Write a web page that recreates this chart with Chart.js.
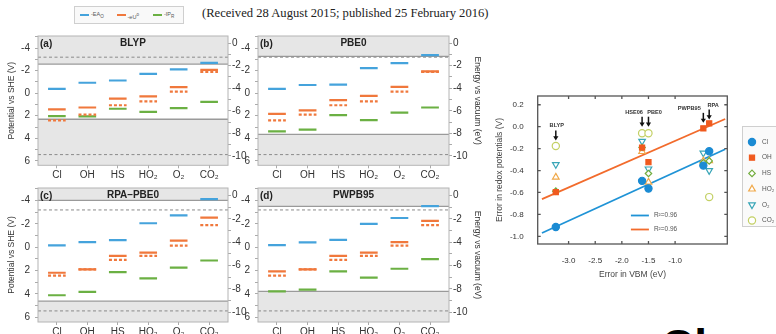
<!DOCTYPE html>
<html>
<head>
<meta charset="utf-8">
<script src="https://cdn.jsdelivr.net/npm/chart.js@4.4.1/dist/chart.umd.min.js"></script>
<style>
  html, body { margin: 0; padding: 0; background: #fff; width: 776px; height: 334px; overflow: hidden; position: relative; font-family: "Liberation Sans", Arial, sans-serif; }
  canvas { position: absolute; }
  .abs { position: absolute; white-space: nowrap; }
</style>
</head>
<body>
<div class="abs" style="left:202px;top:7px;font:12.6px/13px 'Liberation Serif','Times New Roman',serif;color:#222;">(Received 28 August 2015; published 25 February 2016)</div>
<div class="abs" id="levelLegend" style="left:74px;top:6px;width:108px;height:16px;border:1px solid #cfcfcf;background:#f9f9f9;"></div>

<canvas id="panelA" width="250" height="158" style="left:0;top:25px"></canvas>
<canvas id="panelB" width="255" height="158" style="left:230px;top:25px"></canvas>
<canvas id="panelC" width="250" height="164" style="left:0;top:170px"></canvas>
<canvas id="panelD" width="255" height="164" style="left:230px;top:170px"></canvas>
<canvas id="errorChart" width="286" height="195" style="left:490px;top:85px"></canvas>

<div class="abs" style="left:661px;top:323px;font:bold 46px/46px 'Liberation Sans',Arial,sans-serif;color:#000;">Cl</div>

<script>
const FONT = '"Liberation Sans", Arial, sans-serif';
Chart.defaults.font.family = FONT;
Chart.defaults.color = "#333";

// ---- level diagrams (a)-(d) ----
const categories = ["Cl", "OH", "HS", "HO₂", "O₂", "CO₂"];
const potTicks = [-5, -4, -3, -2, -1, 0, 1, 2, 3, 4, 5, 6];
const vacTicks = [-10, -9, -8, -7, -6, -5, -4, -3, -2, -1, 0];
const dashedLevels = [-3.2, 5.45];
const expU = [2.42, 1.90, 1.07, 0.73, -0.14, -1.90];   // dotted orange, same in every panel

const blypEA = [-0.39, -0.93, -1.13, -1.72, -2.11, -2.70];
const blypU  = [1.44, 1.27, 0.48, 0.28, -0.54, -2.08];
const blypIP = [2.03, 2.05, 1.38, 1.66, 1.32, 0.76];
const blypEdges = [-2.59, 2.31];

const pbe0EA = [-0.39, -0.73, -0.76, -2.23, -2.68, -3.38];
const pbe0U  = [1.83, 1.52, 0.62, 0.23, -0.56, -1.94];
const pbe0IP = [3.38, 3.24, 1.94, 2.39, 1.72, 1.27];
const pbe0Edges = [-3.27, 3.66];

const rpaEA = [-0.16, -0.44, -0.61, -2.06, -2.74, -4.13];
const rpaU  = [2.18, 1.90, 0.73, 0.45, -0.57, -2.55];
const rpaIP = [4.11, 3.82, 2.12, 2.66, 1.75, 1.13];
const rpaEdges = [-4.02, 4.62];

const pwpbEA = [-0.19, -0.42, -0.64, -2.00, -2.51, -3.53];
const pwpbU  = [2.07, 1.90, 0.73, 0.45, -0.45, -2.27];
const pwpbIP = [3.77, 3.62, 2.07, 2.60, 1.84, 1.02];
const pwpbEdges = [-3.50, 3.77];

const SHE_OFFSET = 4.44;
const Y_MIN = -5.08, Y_MAX = 6.4;
const X_MIN = -0.62, X_MAX = 5.62;
const HALF = 0.29;

const BLUE = "#45a3dc", ORANGE = "#f0783c", GREEN = "#6bb043";
const BAND = "#e6e6e6", EDGE = "#9a9a9a";

// top legend
const legendItems = [
  { color: BLUE, html: "-EA<sub>O</sub>" },
  { color: ORANGE, html: "-eU<sup>o</sup>" },
  { color: GREEN, html: "-IP<sub>R</sub>" }
];
const legendBox = document.getElementById("levelLegend");
legendItems.forEach((it, i) => {
  const sw = document.createElement("div");
  sw.className = "abs";
  sw.style.cssText = `left:${5 + i * 36.5}px;top:7px;width:9px;height:1.6px;background:${it.color};`;
  const tx = document.createElement("div");
  tx.className = "abs";
  tx.style.cssText = `left:${16 + i * 36.5}px;top:4px;font-size:5.5px;line-height:7px;color:#555;`;
  tx.innerHTML = it.html;
  legendBox.appendChild(sw);
  legendBox.appendChild(tx);
});

// frame around the plot area, optional inward ticks
const framePlugin = {
  id: "frame",
  afterDraw(chart, args, opts) {
    if (!opts.color) return;
    const { ctx, chartArea: a } = chart;
    ctx.save();
    ctx.strokeStyle = opts.color;
    ctx.lineWidth = opts.width || 1;
    ctx.strokeRect(a.left, a.top, a.right - a.left, a.bottom - a.top);
    if (opts.inTicks) {
      const len = opts.inTicks, xs = chart.scales.x, ys = chart.scales.y;
      ctx.beginPath();
      xs.ticks.forEach(t => {
        const p = xs.getPixelForValue(t.value);
        ctx.moveTo(p, a.bottom); ctx.lineTo(p, a.bottom - len);
        ctx.moveTo(p, a.top); ctx.lineTo(p, a.top + len);
      });
      ys.ticks.forEach(t => {
        const p = ys.getPixelForValue(t.value);
        ctx.moveTo(a.left, p); ctx.lineTo(a.left + len, p);
        ctx.moveTo(a.right, p); ctx.lineTo(a.right - len, p);
      });
      ctx.stroke();
    }
    ctx.restore();
  }
};

// "(a)" tag and method name inside the plot
const panelTitlePlugin = {
  id: "panelTitle",
  afterDraw(chart, args, opts) {
    if (!opts.name) return;
    const { ctx, chartArea: a } = chart;
    ctx.save();
    ctx.fillStyle = "#222";
    ctx.font = `bold 10px ${FONT}`;
    ctx.textBaseline = "middle";
    ctx.textAlign = "left";
    ctx.fillText(opts.tag, a.left + 2, a.top + 8);
    ctx.textAlign = "center";
    ctx.fillText(opts.name, (a.left + a.right) / 2, a.top + 7.5);
    ctx.restore();
  }
};

Chart.register(framePlugin, panelTitlePlugin);

function segments(vals) {
  return vals.flatMap((v, i) => [{ x: i - HALF, y: v }, { x: i + HALF, y: v }, { x: i + 0.5, y: null }]);
}
function hline(v) {
  return [{ x: X_MIN, y: v }, { x: X_MAX, y: v }];
}

function levelPanel(id, cfg) {
  const tickGrid = { display: true, drawOnChartArea: false, tickLength: 3, color: "#aaa" };
  const levelSet = (vals, color, dash) => ({
    data: segments(vals), borderColor: color, borderWidth: 2.2, borderDash: dash || [],
    showLine: true, pointRadius: 0, spanGaps: false, order: 1
  });
  new Chart(document.getElementById(id), {
    type: "scatter",
    data: {
      datasets: [
        levelSet(cfg.ea, BLUE),
        levelSet(expU, ORANGE, [3, 2]),
        levelSet(cfg.u, ORANGE),
        levelSet(cfg.ip, GREEN),
        { data: hline(cfg.edges[0]), fill: { value: Y_MIN }, backgroundColor: BAND, borderColor: EDGE, borderWidth: 1.3, showLine: true, pointRadius: 0, order: 6 },
        { data: hline(cfg.edges[1]), fill: { value: Y_MAX }, backgroundColor: BAND, borderColor: EDGE, borderWidth: 1.3, showLine: true, pointRadius: 0, order: 6 },
        { data: hline(dashedLevels[0]), borderColor: "#8a8a8a", borderWidth: 1, borderDash: [3, 2.5], showLine: true, pointRadius: 0, order: 5 },
        { data: hline(dashedLevels[1]), borderColor: "#8a8a8a", borderWidth: 1, borderDash: [3, 2.5], showLine: true, pointRadius: 0, order: 5 }
      ]
    },
    options: {
      responsive: false, animation: false, events: [],
      layout: { padding: { top: cfg.padTop, left: 0, right: 0, bottom: 0 } },
      plugins: {
        legend: { display: false }, tooltip: { enabled: false },
        frame: { color: "#b4b4b4", width: 1 },
        panelTitle: { tag: cfg.tag, name: cfg.name }
      },
      scales: {
        x: {
          type: "linear", min: X_MIN, max: X_MAX,
          afterBuildTicks: s => { s.ticks = categories.map((c, i) => ({ value: i })); },
          afterFit: s => { s.height = cfg.bottomH; },
          ticks: { callback: v => categories[v], font: { size: 10 }, color: "#333", padding: 1, maxRotation: 0, autoSkip: false },
          grid: tickGrid, border: { display: false }
        },
        y: {
          position: "left", reverse: true, min: Y_MIN, max: Y_MAX,
          afterBuildTicks: s => { s.ticks = potTicks.map(v => ({ value: v })); },
          afterFit: s => { s.width = cfg.leftW; },
          ticks: { callback: v => (v % 2 === 0 ? String(v) : ""), font: { size: 10 }, color: "#333", padding: 5, autoSkip: false },
          grid: tickGrid, border: { display: false },
          title: { display: cfg.leftTitle, text: "Potential vs SHE (V)", font: { size: 8.5 }, color: "#333", padding: { top: 7, bottom: 0 } }
        },
        yE: {
          position: "right", min: -Y_MAX - SHE_OFFSET, max: -Y_MIN - SHE_OFFSET,
          afterBuildTicks: s => { s.ticks = vacTicks.map(v => ({ value: v })); },
          afterFit: s => { s.width = cfg.rightW; },
          ticks: { callback: v => (v % 2 === 0 ? String(v) : ""), font: { size: 10 }, color: "#333", padding: 1, autoSkip: false },
          grid: tickGrid, border: { display: false },
          title: { display: cfg.rightTitle, text: "Energy vs vacuum (eV)", font: { size: 8.5 }, color: "#333", padding: { top: 3, bottom: 0 } }
        }
      }
    }
  });
}

levelPanel("panelA", { tag: "(a)", name: "BLYP", ea: blypEA, u: blypU, ip: blypIP, edges: blypEdges,
  padTop: 5.7, bottomH: 17.7, leftW: 38, rightW: 22, leftTitle: true, rightTitle: false });
levelPanel("panelB", { tag: "(b)", name: "PBE0", ea: pbe0EA, u: pbe0U, ip: pbe0IP, edges: pbe0Edges,
  padTop: 5.7, bottomH: 17.7, leftW: 28, rightW: 36, leftTitle: false, rightTitle: true });
levelPanel("panelC", { tag: "(c)", name: "RPA–PBE0", ea: rpaEA, u: rpaU, ip: rpaIP, edges: rpaEdges,
  padTop: 18, bottomH: 12, leftW: 38, rightW: 22, leftTitle: true, rightTitle: false });
levelPanel("panelD", { tag: "(d)", name: "PWPB95", ea: pwpbEA, u: pwpbU, ip: pwpbIP, edges: pwpbEdges,
  padTop: 18, bottomH: 12, leftW: 28, rightW: 36, leftTitle: false, rightTitle: true });

// ---- error correlation plot ----
const methods = ["BLYP", "HSE06", "PBE0", "PWPB95", "RPA"];
const vbmError = [-3.24, -1.62, -1.50, -0.47, -0.36];
const errCl  = [-0.915, -0.494, -0.564, -0.355, -0.224];
const errOH  = [-0.597, -0.19, -0.324, -0.015, 0.03];
const errHS  = [-0.588, -0.19, -0.427, -0.33, -0.312];
const errHO2 = [-0.46, -0.227, -0.506, -0.312, -0.31];
const errO2  = [-0.345, -0.133, -0.385, -0.24, -0.40];
const errCO2 = [-0.176, -0.06, -0.06, null, -0.642];
const fitX  = [-3.5, -0.06];
const fitCl = [-0.97, -0.206];
const fitOH = [-0.66, 0.07];
const arrowTip = [-0.125, 0.0, 0.0, 0.035, 0.065];
const errYTicks = [-1.0, -0.8, -0.6, -0.4, -0.2, 0.0, 0.2];
const errXTicks = [-3.0, -2.5, -2.0, -1.5, -1.0];
const fitLabels = ["R²=0.96", "R²=0.96"];

const labelShift = [1, -8, 6, -14, 4];

const adsorbates = [
  { label: "Cl",  vals: errCl,  color: "#1b8bd3", style: "circle",   open: false, r: 3.6, rot: 0 },
  { label: "OH",  vals: errOH,  color: "#f05a1e", style: "rect",     open: false, r: 3.6, rot: 0 },
  { label: "HS",  vals: errHS,  color: "#72ad3e", style: "rectRot",  open: true,  r: 3.2, rot: 0 },
  { label: "HO₂", vals: errHO2, color: "#f0a848", style: "triangle", open: true,  r: 3.8, rot: 0 },
  { label: "O₂",  vals: errO2,  color: "#3aa6b8", style: "triangle", open: true,  r: 3.8, rot: 180 },
  { label: "CO₂", vals: errCO2, color: "#c3d064", style: "circle",   open: true,  r: 3.6, rot: 0 }
];
const fitColors = ["#1f93d6", "#f26b2c"];

const errDecor = {
  id: "errDecor",
  afterDraw(chart) {
    const { ctx, scales: { x, y } } = chart;
    ctx.save();
    // arrows + method labels
    methods.forEach((m, i) => {
      const px = x.getPixelForValue(vbmError[i]);
      const tip = y.getPixelForValue(arrowTip[i]);
      ctx.strokeStyle = "#111"; ctx.fillStyle = "#111"; ctx.lineWidth = 1.5;
      ctx.beginPath(); ctx.moveTo(px, tip - 10); ctx.lineTo(px, tip - 3); ctx.stroke();
      ctx.beginPath(); ctx.moveTo(px - 2.6, tip - 4.2); ctx.lineTo(px + 2.6, tip - 4.2); ctx.lineTo(px, tip); ctx.closePath(); ctx.fill();
      ctx.font = `bold 5.6px ${FONT}`; ctx.textAlign = "center"; ctx.textBaseline = "middle";
      ctx.fillStyle = "#333";
      ctx.fillText(m, px + labelShift[i], tip - 14.5);
    });
    // fit legend inside the plot
    const lx = x.getPixelForValue(-1.83), ly0 = y.getPixelForValue(-0.81);
    fitLabels.forEach((t, i) => {
      const ly = ly0 + i * 14;
      ctx.strokeStyle = fitColors[i]; ctx.lineWidth = 1.8;
      ctx.beginPath(); ctx.moveTo(lx, ly); ctx.lineTo(lx + 18, ly); ctx.stroke();
      ctx.fillStyle = "#555"; ctx.font = `6.5px ${FONT}`; ctx.textAlign = "left"; ctx.textBaseline = "middle";
      ctx.fillText(t, lx + 23, ly);
    });
    // adsorbate legend box on the right
    const bx = 252.5, by = 41.5;
    ctx.fillStyle = "#fafafa"; ctx.strokeStyle = "#cfcfcf"; ctx.lineWidth = 1;
    ctx.fillRect(bx, by, 40, 100); ctx.strokeRect(bx, by, 40, 100);
    adsorbates.forEach((a, i) => {
      const sy = by + 15.5 + i * 15.7;
      ctx.fillStyle = a.open ? "#fff" : a.color;
      ctx.strokeStyle = a.color; ctx.lineWidth = 1.2;
      Chart.helpers.drawPoint(ctx, { pointStyle: a.style, radius: a.r, rotation: a.rot, borderWidth: 1.2 }, bx + 9.5, sy);
      ctx.fillStyle = "#555"; ctx.font = `6.5px ${FONT}`; ctx.textAlign = "left"; ctx.textBaseline = "middle";
      ctx.fillText(a.label, bx + 19.5, sy);
    });
    ctx.restore();
  }
};

new Chart(document.getElementById("errorChart"), {
  type: "scatter",
  data: {
    datasets: [
      ...adsorbates.map(a => ({
        label: a.label,
        data: vbmError.map((vx, i) => ({ x: vx, y: a.vals[i] })),
        pointStyle: a.style, pointRadius: a.r, pointRotation: a.rot,
        backgroundColor: a.open ? "#fff" : a.color, borderColor: a.color, borderWidth: 1.2, order: 1
      })),
      { data: fitX.map((vx, i) => ({ x: vx, y: fitCl[i] })), borderColor: fitColors[0], borderWidth: 1.8, showLine: true, pointRadius: 0, order: 5 },
      { data: fitX.map((vx, i) => ({ x: vx, y: fitOH[i] })), borderColor: fitColors[1], borderWidth: 1.8, showLine: true, pointRadius: 0, order: 5 }
    ]
  },
  options: {
    responsive: false, animation: false, events: [],
    layout: { padding: { top: 11, left: 0, right: 48.7, bottom: 0 } },
    plugins: {
      legend: { display: false }, tooltip: { enabled: false },
      frame: { color: "#555", width: 1.3, inTicks: 3 }
    },
    scales: {
      x: {
        type: "linear", min: -3.58, max: -0.02,
        afterBuildTicks: s => { s.ticks = errXTicks.map(v => ({ value: v })); },
        afterFit: s => { s.height = 36; },
        ticks: { callback: v => v.toFixed(1), font: { size: 8 }, color: "#333", padding: 4, maxRotation: 0, autoSkip: false },
        grid: { display: false }, border: { display: false },
        title: { display: true, text: "Error in VBM (eV)", font: { size: 8.5 }, color: "#444", padding: { top: 2, bottom: 0 } }
      },
      y: {
        min: -1.07, max: 0.28,
        afterBuildTicks: s => { s.ticks = errYTicks.map(v => ({ value: v })); },
        afterFit: s => { s.width = 47.7; },
        ticks: { callback: v => v.toFixed(1), font: { size: 8 }, color: "#333", padding: 6, autoSkip: false },
        grid: { display: false }, border: { display: false },
        title: { display: true, text: "Error in redox potentials (V)", font: { size: 8.5 }, color: "#444", padding: { top: 5, bottom: 0 } }
      }
    }
  },
  plugins: [errDecor]
});
</script>
</body>
</html>
